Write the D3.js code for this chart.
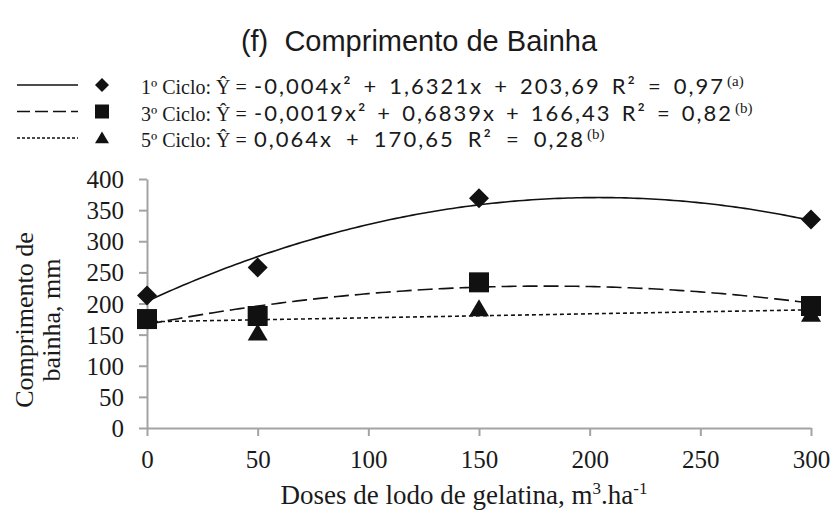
<!DOCTYPE html>
<html>
<head>
<meta charset="utf-8">
<script src="https://cdn.jsdelivr.net/npm/d3@7"></script>
<style>
  html, body { margin: 0; padding: 0; background: #fff; }
  svg { display: block; }
</style>
</head>
<body>
<svg id="chart" width="833" height="514"></svg>
<script>
// Doses of gelatin sludge (m3/ha) and observed sheath length (mm) per cycle
const doses = [0, 50, 150, 300];
const ciclo1 = [213, 258, 369, 335];
const ciclo3 = [175, 180, 234, 196];
const ciclo5 = [172, 153, 192, 183];

// Regression coefficients [a, b, c] for y = a*x^2 + b*x + c
const coef1 = [-0.004, 1.6321, 203.69];
const coef3 = [-0.0019, 0.6839, 166.43];
const coef5 = [0, 0.064, 170.65];

const seriesNames = ["1º Ciclo: Ŷ =", "3º Ciclo: Ŷ =", "5º Ciclo: Ŷ ="];
const equations = [
  "-0,004x² + 1,6321x + 203,69 R² = 0,97",
  "-0,0019x² + 0,6839x + 166,43 R² = 0,82",
  "0,064x + 170,65 R² = 0,28"
];
const significance = ["(a)", "(b)", "(b)"];
const xTicks = [0, 50, 100, 150, 200, 250, 300];
const yTicks = [0, 50, 100, 150, 200, 250, 300, 350, 400];

const svg = d3.select("#chart");
const x = d3.scaleLinear().domain([0, 300]).range([147, 811]);
const y = d3.scaleLinear().domain([0, 400]).range([428, 179]);

const serif = "'Liberation Serif', 'Times New Roman', serif";
const sans = "'Liberation Sans', Arial, sans-serif";
const eqFont = "Lato, 'Open Sans', sans-serif";
const axisGray = "#a3a3a3";
const ink = "#1a1a1a";

// Title
svg.append("text")
  .attr("x", 419).attr("y", 51)
  .attr("text-anchor", "middle")
  .attr("font-family", sans).attr("font-size", 29)
  .attr("fill", ink)
  .attr("xml:space", "preserve")
  .text("(f)  Comprimento de Bainha");

// Axes
const xAxis = svg.append("g")
  .attr("transform", `translate(0,${y(0)})`)
  .call(d3.axisBottom(x).tickValues(xTicks).tickSize(8).tickSizeOuter(0).tickPadding(14));
const yAxis = svg.append("g")
  .attr("transform", `translate(${x(0)},0)`)
  .call(d3.axisLeft(y).tickValues(yTicks).tickSize(8).tickSizeOuter(0).tickPadding(15));

[xAxis, yAxis].forEach(g => {
  g.select(".domain").attr("stroke", axisGray).attr("stroke-width", 2);
  g.selectAll(".tick line").attr("stroke", axisGray).attr("stroke-width", 2);
  g.selectAll(".tick text")
    .attr("font-family", serif).attr("font-size", 25).attr("fill", ink);
});
yAxis.selectAll(".tick text").attr("dy", "0.34em");

// Axis titles
const xt = svg.append("text")
  .attr("x", 464).attr("y", 504)
  .attr("text-anchor", "middle")
  .attr("font-family", serif).attr("font-size", 27).attr("fill", ink);
xt.append("tspan").text("Doses de lodo de gelatina, m");
xt.append("tspan").attr("font-size", 17).attr("dy", -10).text("3");
xt.append("tspan").attr("dy", 10).text(".ha");
xt.append("tspan").attr("font-size", 17).attr("dy", -10).text("-1");

const yt = svg.append("text")
  .attr("transform", "translate(0,320) rotate(-90)")
  .attr("text-anchor", "middle")
  .attr("font-family", serif).attr("font-size", 26).attr("fill", ink);
yt.append("tspan").attr("x", 0).attr("y", 33).text("Comprimento de");
yt.append("tspan").attr("x", 0).attr("y", 60).text("bainha, mm");

// Fitted curves
const curveX = d3.range(0, 300.01, 2);
const fit = c => v => c[0] * v * v + c[1] * v + c[2];
const lineGen = d3.line().x(d => x(d[0])).y(d => y(d[1]));

const styles = [
  { coef: coef1, obs: ciclo1, dash: null, shape: "diamond" },
  { coef: coef3, obs: ciclo3, dash: "15,6", shape: "square" },
  { coef: coef5, obs: ciclo5, dash: "4,3", shape: "triangle" }
];

function markerPath(shape, cx, cy, r) {
  if (shape === "diamond") {
    return `M${cx},${cy - r}L${cx + r},${cy}L${cx},${cy + r}L${cx - r},${cy}Z`;
  }
  if (shape === "square") {
    return `M${cx - r},${cy - r}h${2 * r}v${2 * r}h${-2 * r}Z`;
  }
  const h = r * 1.7;
  return `M${cx},${cy - h * 0.55}L${cx + r},${cy + h * 0.45}L${cx - r},${cy + h * 0.45}Z`;
}

styles.forEach(s => {
  svg.append("path")
    .datum(curveX.map(v => [v, fit(s.coef)(v)]))
    .attr("d", lineGen)
    .attr("fill", "none")
    .attr("stroke", "#111")
    .attr("stroke-width", 1.6)
    .attr("stroke-dasharray", s.dash);
});

// Observed points (5th cycle first, 1st cycle on top)
[styles[2], styles[1], styles[0]].forEach(s => {
  svg.append("g").selectAll("path")
    .data(doses.map((d, i) => [d, s.obs[i]]))
    .join("path")
    .attr("d", d => markerPath(s.shape, x(d[0]), y(d[1]), 10))
    .attr("fill", "#111");
});

// Legend: sample line, marker, label with equation and significance letter
const legendY = [85, 111.5, 138];
const eqStart = 254;
const eqEnd = [725, 733, 585];
styles.forEach((s, i) => {
  const ly = legendY[i];
  svg.append("line")
    .attr("x1", 17).attr("x2", 78).attr("y1", ly).attr("y2", ly)
    .attr("stroke", "#111").attr("stroke-width", 1.3)
    .attr("stroke-dasharray", i === 0 ? null : (i === 1 ? "13,5" : "3,2"));
  svg.append("path")
    .attr("d", markerPath(s.shape, 102, ly, 7))
    .attr("fill", "#111");
  svg.append("text")
    .attr("x", 141).attr("y", ly + 9)
    .attr("font-family", serif).attr("font-size", 20).attr("fill", ink)
    .text(seriesNames[i]);
  const eq = svg.append("text")
    .attr("x", eqStart).attr("y", ly + 9)
    .attr("font-family", eqFont).attr("font-size", 22).attr("fill", ink)
    .style("letter-spacing", "2px")
    .text(equations[i]);
  // widen the gaps between terms so the equation spans its column
  const natural = eq.node().getComputedTextLength();
  const gaps = equations[i].split(" ").length - 1;
  eq.style("word-spacing", Math.max(0, (eqEnd[i] - eqStart - natural) / gaps) + "px");
  svg.append("text")
    .attr("x", eqEnd[i] + 2).attr("y", ly + 1)
    .attr("font-family", serif).attr("font-size", 15).attr("fill", ink)
    .text(significance[i]);
});
</script>
</body>
</html>
